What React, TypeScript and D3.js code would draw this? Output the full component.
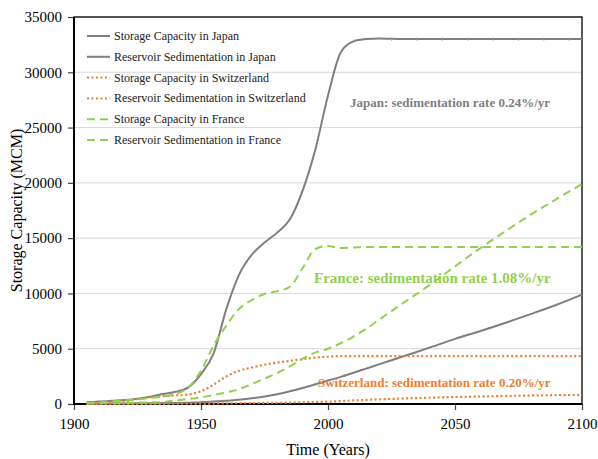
import React, { useEffect, useRef } from "react";
import * as d3 from "d3";

const years = [1905, 1910, 1915, 1920, 1925, 1930, 1935, 1940, 1945, 1950, 1955, 1960, 1965, 1970, 1975, 1980, 1985, 1990, 1995, 2000, 2005, 2010, 2015, 2020, 2030, 2040, 2050, 2060, 2070, 2080, 2090, 2100];

const japanCapacity = [150, 220, 290, 360, 480, 650, 900, 1100, 1500, 2700, 4600, 8600, 11700, 13500, 14600, 15500, 16700, 19300, 23000, 27900, 31800, 32800, 33000, 33050, 33000, 33000, 33000, 33000, 33000, 33000, 33000, 33000];
const japanSediment = [20, 30, 40, 50, 60, 70, 80, 100, 120, 150, 220, 300, 380, 520, 680, 880, 1150, 1450, 1780, 2120, 2450, 2820, 3200, 3580, 4340, 5100, 5890, 6600, 7350, 8150, 8980, 9900];

const swissCapacity = [30, 60, 120, 250, 450, 620, 700, 780, 860, 1150, 1750, 2500, 3000, 3300, 3550, 3750, 3900, 4050, 4200, 4280, 4340, 4330, 4330, 4330, 4330, 4330, 4330, 4330, 4330, 4330, 4330, 4330];
const swissSediment = [5, 8, 10, 12, 15, 18, 20, 22, 25, 30, 45, 60, 70, 80, 95, 110, 130, 150, 180, 210, 260, 320, 370, 420, 500, 570, 630, 680, 730, 770, 800, 830];

const franceCapacity = [100, 160, 250, 330, 420, 550, 680, 900, 1500, 3000, 5300, 7100, 8600, 9400, 9950, 10200, 10600, 12300, 14000, 14300, 14100, 14150, 14200, 14200, 14200, 14200, 14200, 14200, 14200, 14200, 14200, 14200];
const franceSediment = [50, 70, 90, 110, 130, 150, 180, 330, 450, 600, 820, 1050, 1350, 1800, 2300, 2800, 3400, 4100, 4650, 5000, 5500, 6100, 6800, 7600, 9200, 10750, 12450, 14100, 15650, 17150, 18550, 19900];

const japanMarkers = [2025, 2035, 2045, 2055, 2065, 2075, 2085, 2095];

const xTicks = [1900, 1950, 2000, 2050, 2100];
const yTicks = [0, 5000, 10000, 15000, 20000, 25000, 30000, 35000];

const GRAY = "#7f7f7f";
const ORANGE = "#ed7d31";
const GREEN = "#92d050";

const series = [
  { name: "Storage Capacity in Japan", values: japanCapacity, color: GRAY, dash: null },
  { name: "Reservoir Sedimentation in Japan", values: japanSediment, color: GRAY, dash: null },
  { name: "Storage Capacity in Switzerland", values: swissCapacity, color: ORANGE, dash: "2,2.5" },
  { name: "Reservoir Sedimentation in Switzerland", values: swissSediment, color: ORANGE, dash: "2,2.5" },
  { name: "Storage Capacity in France", values: franceCapacity, color: GREEN, dash: "8,5" },
  { name: "Reservoir Sedimentation in France", values: franceSediment, color: GREEN, dash: "8,5" },
];

export default function App() {
  const ref = useRef<SVGSVGElement>(null);

  useEffect(() => {
    const width = 598,
      height = 459;
    const left = 74,
      right = 582,
      top = 17,
      bottom = 404;
    const font = "'Liberation Serif', 'Times New Roman', serif";

    const svg = d3.select(ref.current);
    svg.selectAll("*").remove();
    svg.attr("width", width).attr("height", height);

    const x = d3.scaleLinear().domain([1900, 2100]).range([left, right]);
    const y = d3.scaleLinear().domain([0, 35000]).range([bottom, top]);

    // grid
    svg
      .append("g")
      .selectAll("line")
      .data(yTicks.filter((t) => t > 0))
      .join("line")
      .attr("x1", left)
      .attr("x2", right)
      .attr("y1", (d) => y(d))
      .attr("y2", (d) => y(d))
      .attr("stroke", "#d9d9d9")
      .attr("stroke-width", 1);

    // axes
    const yAxis = svg
      .append("g")
      .attr("transform", `translate(${left},0)`)
      .call(d3.axisLeft(y).tickValues(yTicks).tickSize(6).tickPadding(6).tickFormat(d3.format("d")));
    const xAxis = svg
      .append("g")
      .attr("transform", `translate(0,${bottom})`)
      .call(d3.axisBottom(x).tickValues(xTicks).tickSize(6).tickPadding(8).tickFormat(d3.format("d")));
    [yAxis, xAxis].forEach((g) => {
      g.attr("font-family", null).attr("font-size", null);
      g.select(".domain").remove();
      g.selectAll("line").attr("stroke", "#444").attr("stroke-width", 1.2);
      g.selectAll("text").attr("font-family", font).attr("font-size", 15).attr("fill", "#000");
    });

    // frame
    svg
      .append("rect")
      .attr("x", left)
      .attr("y", top)
      .attr("width", right - left)
      .attr("height", bottom - top)
      .attr("fill", "none")
      .attr("stroke", "#000")
      .attr("stroke-width", 1.3);
    svg.append("line").attr("x1", left).attr("x2", right).attr("y1", bottom).attr("y2", bottom).attr("stroke", "#000").attr("stroke-width", 2);
    svg.append("line").attr("x1", left).attr("x2", left).attr("y1", top).attr("y2", bottom).attr("stroke", "#000").attr("stroke-width", 2);

    // lines
    const line = d3
      .line<number>()
      .x((_, i) => x(years[i]))
      .y((d) => y(d))
      .curve(d3.curveMonotoneX);

    series.forEach((s) => {
      svg
        .append("path")
        .datum(s.values)
        .attr("fill", "none")
        .attr("stroke", s.color)
        .attr("stroke-width", s.dash === "2,2.5" ? 2.2 : 2)
        .attr("stroke-dasharray", s.dash)
        .attr("d", line);
    });

    svg
      .append("g")
      .selectAll("line")
      .data(japanMarkers)
      .join("line")
      .attr("x1", (d) => x(d))
      .attr("x2", (d) => x(d))
      .attr("y1", y(33000) - 1.5)
      .attr("y2", y(33000) + 1.5)
      .attr("stroke", "#999")
      .attr("stroke-width", 1);

    // legend
    const legend = svg.append("g").attr("transform", "translate(87,36)");
    series.forEach((s, i) => {
      const row = legend.append("g").attr("transform", `translate(0,${i * 20.8})`);
      row
        .append("line")
        .attr("x1", 0)
        .attr("x2", 23)
        .attr("y1", 0)
        .attr("y2", 0)
        .attr("stroke", s.color)
        .attr("stroke-width", 2)
        .attr("stroke-dasharray", s.dash);
      row
        .append("text")
        .attr("x", 27)
        .attr("y", 4)
        .attr("font-family", font)
        .attr("font-size", 12)
        .attr("fill", "#222")
        .text(s.name);
    });

    // annotations
    const notes = [
      { text: "Japan: sedimentation rate 0.24%/yr", x: 350, y: 106.5, color: GRAY, size: 13 },
      { text: "France: sedimentation rate 1.08%/yr", x: 314, y: 283, color: GREEN, size: 15 },
      { text: "Switzerland: sedimentation rate 0.20%/yr", x: 318, y: 386.5, color: ORANGE, size: 13 },
    ];
    notes.forEach((n) => {
      svg
        .append("text")
        .attr("x", n.x)
        .attr("y", n.y)
        .attr("font-family", font)
        .attr("font-weight", "bold")
        .attr("font-size", n.size)
        .attr("fill", n.color)
        .text(n.text);
    });

    // axis titles
    svg
      .append("text")
      .attr("x", (left + right) / 2)
      .attr("y", 455)
      .attr("text-anchor", "middle")
      .attr("font-family", font)
      .attr("font-size", 16)
      .text("Time (Years)");
    svg
      .append("text")
      .attr("transform", `translate(22,${(top + bottom) / 2}) rotate(-90)`)
      .attr("text-anchor", "middle")
      .attr("font-family", font)
      .attr("font-size", 16)
      .text("Storage Capacity (MCM)");
  }, []);

  return <svg ref={ref} style={{ position: "absolute", left: 0, top: 0 }} />;
}
